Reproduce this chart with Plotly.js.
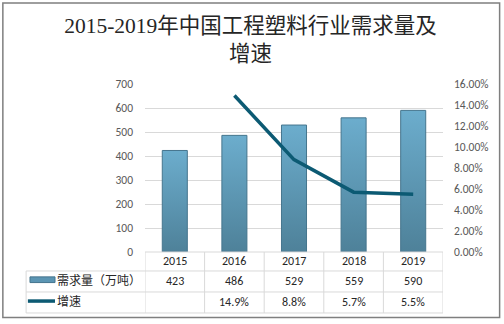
<!DOCTYPE html>
<html><head><meta charset="utf-8">
<script src="https://cdn.plot.ly/plotly-3.0.1.min.js"></script>
<style>html,body{margin:0;padding:0;background:#fff}#chart{width:504px;height:324px}</style>
</head><body><div id="chart"></div>
<script>
const years = ['2015','2016','2017','2018','2019'];
const demand = [423, 486, 529, 559, 590];
const growth = [null, 14.9, 8.8, 5.7, 5.5];
const seriesNames = ['需求量（万吨）', '增速'];
const titleText = '2015-2019年中国工程塑料行业需求量及<br>增速';

const idx = years.map((_, i) => i);
const rowY = [-0.113, -0.238, -0.363];
const textFont = {family: 'Calibri, Carlito, "Liberation Sans", "Noto Sans CJK SC", sans-serif', size: 12, color: '#262626'};

const traces = [
  {type: 'bar', x: idx, y: demand, name: seriesNames[0], width: 0.42,
   marker: {color: '#5b95b3', line: {color: '#45758d', width: 1}}, hoverinfo: 'none'},
  {type: 'scatter', mode: 'lines', x: idx, y: growth.map(v => v == null ? null : v / 100), yaxis: 'y2',
   name: seriesNames[1], line: {color: '#0c5a73', width: 3.5}, hoverinfo: 'none'}
];

const shapes = [];
const annotations = [];
const gridCol = '#d9d9d9';
// outer border
shapes.push({type: 'rect', xref: 'paper', yref: 'paper', x0: -0.477, x1: 1.19, y0: -0.39, y1: 1.482,
  line: {color: '#7f7f7f', width: 1.5}});
// table horizontal lines
shapes.push({type: 'line', xref: 'x', yref: 'paper', x0: -0.5, x1: 4.5, y0: 0, y1: 0, line: {color: gridCol, width: 1}});
rowY.forEach(y => shapes.push({type: 'line', xref: 'paper', yref: 'paper', x0: -0.399, x1: 1, y0: y, y1: y, line: {color: gridCol, width: 1}}));
// vertical lines
for (let i = 0; i <= years.length; i++) {
  shapes.push({type: 'line', xref: 'x', yref: 'paper', x0: i - 0.5, x1: i - 0.5, y0: 0, y1: rowY[2], line: {color: gridCol, width: 1}});
}
shapes.push({type: 'line', xref: 'paper', yref: 'paper', x0: -0.399, x1: -0.399, y0: rowY[0], y1: rowY[2], line: {color: gridCol, width: 1}});
// legend keys
shapes.push({type: 'rect', xref: 'paper', yref: 'paper', x0: -0.386, x1: -0.302, y0: -0.148, y1: -0.182,
  fillcolor: '#5b95b3', line: {color: '#45758d', width: 1}});
shapes.push({type: 'line', xref: 'paper', yref: 'paper', x0: -0.393, x1: -0.302, y0: -0.292, y1: -0.292,
  line: {color: '#0c5a73', width: 3.5}});

const midHeader = (0 + rowY[0]) / 2, mid1 = (rowY[0] + rowY[1]) / 2, mid2 = (rowY[1] + rowY[2]) / 2;
years.forEach((yr, i) => {
  annotations.push({xref: 'x', yref: 'paper', x: i, y: midHeader, text: yr, showarrow: false, font: textFont, yanchor: 'middle'});
  annotations.push({xref: 'x', yref: 'paper', x: i, y: mid1, text: String(demand[i]), showarrow: false, font: textFont, yanchor: 'middle'});
  if (growth[i] != null)
    annotations.push({xref: 'x', yref: 'paper', x: i, y: mid2, text: growth[i].toFixed(1) + '%', showarrow: false, font: textFont, yanchor: 'middle'});
});
annotations.push({xref: 'paper', yref: 'paper', x: -0.301, y: mid1, xanchor: 'left', yanchor: 'middle', text: seriesNames[0], showarrow: false, font: textFont});
annotations.push({xref: 'paper', yref: 'paper', x: -0.301, y: mid2, xanchor: 'left', yanchor: 'middle', text: seriesNames[1], showarrow: false, font: textFont});

const tickFont = {family: 'Calibri, Carlito, "Liberation Sans", sans-serif', size: 11.5, color: '#595959'};
const layout = {
  width: 504, height: 324,
  margin: {l: 145, r: 61, t: 84, b: 72, pad: 0},
  paper_bgcolor: '#ffffff', plot_bgcolor: '#ffffff',
  showlegend: false,
  title: {text: titleText, x: 0.497, xanchor: 'center', y: 0.897, yanchor: 'middle',
    font: {family: '"Liberation Serif", "Noto Sans CJK SC", serif', size: 21.5, color: '#262626'}},
  xaxis: {range: [-0.5, 4.5], showticklabels: false, showgrid: false, zeroline: false, showline: false, ticks: '', fixedrange: true},
  yaxis: {range: [0, 700], dtick: 100, tickfont: tickFont, gridcolor: '#d9d9d9', gridwidth: 1, zeroline: false,
    showline: false, ticks: '', ticklabelstandoff: 11},
  yaxis2: {range: [0, 0.16], dtick: 0.02, tickformat: '.2%', overlaying: 'y', side: 'right', showgrid: false,
    zeroline: false, showline: false, ticks: '', tickfont: tickFont, ticklabelstandoff: 10},
  bargap: 0.58,
  shapes: shapes, annotations: annotations
};

Plotly.newPlot('chart', traces, layout, {staticPlot: true, displayModeBar: false}).then(() => {
  const svg = document.querySelector('#chart svg.main-svg');
  const ns = 'http://www.w3.org/2000/svg';
  let defs = svg.querySelector('defs');
  if (!defs) { defs = document.createElementNS(ns, 'defs'); svg.insertBefore(defs, svg.firstChild); }
  const g = document.createElementNS(ns, 'linearGradient');
  g.setAttribute('id', 'barGrad'); g.setAttribute('x1', '0'); g.setAttribute('y1', '0'); g.setAttribute('x2', '0'); g.setAttribute('y2', '1');
  [['0', '#6cadcd'], ['1', '#4e8199']].forEach(([o, c]) => {
    const s = document.createElementNS(ns, 'stop'); s.setAttribute('offset', o); s.setAttribute('stop-color', c); g.appendChild(s);
  });
  defs.appendChild(g);
  document.querySelectorAll('#chart .barlayer .point path').forEach(p => { p.style.fill = 'url(#barGrad)'; });
});
</script></body></html>
